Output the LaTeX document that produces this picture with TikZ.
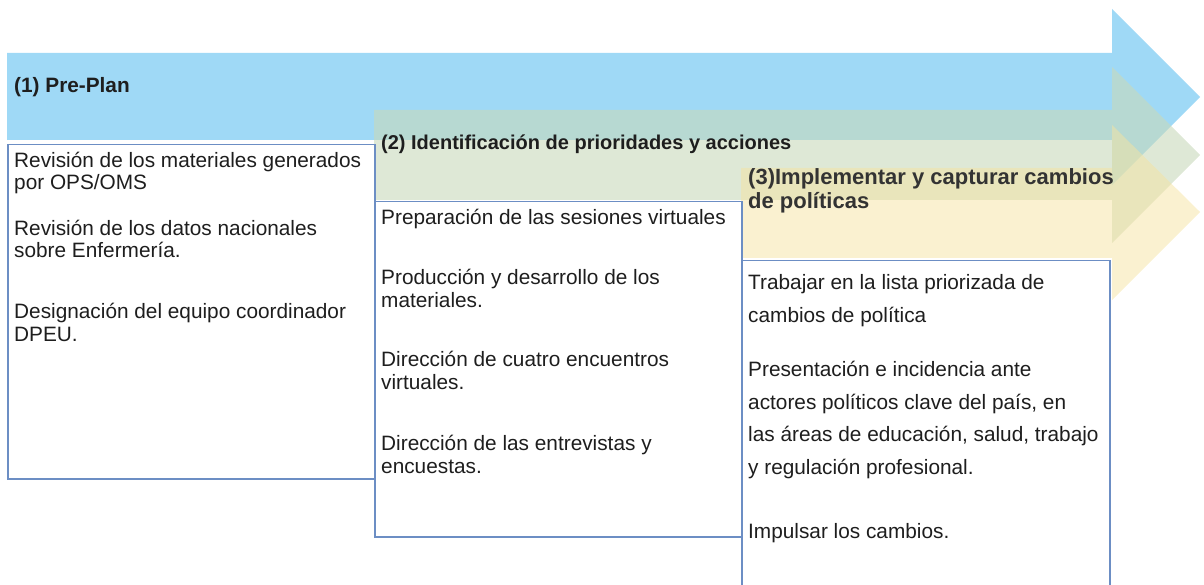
\documentclass[tikz,border=0pt]{standalone}
\usepackage{fontspec}
\setmainfont{Liberation Sans}
\definecolor{azul}{RGB}{159,217,246}
\definecolor{verde}{RGB}{200,217,187}
\definecolor{amarillo}{RGB}{245,227,161}
\definecolor{borde}{RGB}{108,142,196}
\definecolor{tinta}{RGB}{30,30,30}
\tikzset{
  caja/.style={draw=borde, line width=1.5pt, fill=white, anchor=north west, inner sep=0pt},
  titulo/.style={font=\bfseries\fontsize{20}{23}\selectfont, text=tinta, anchor=base west, inner sep=0pt, align=left},
  texto/.style={font=\fontsize{20.8}{22.5}\selectfont, text=tinta, anchor=base west, inner sep=0pt, align=left},
  textoancho/.style={texto, font=\fontsize{20.8}{32.5}\selectfont}
}

\begin{document}
\begin{tikzpicture}[x=1pt, y=-1pt]
    \useasboundingbox (0,0) rectangle (1204,585);
    \clip (0,0) rectangle (1204,585);
    % flechas de las etapas
    \fill [azul] (7,53) -- (1112,53) -- (1112,9) -- (1200,97) -- (1112,185) -- (1112,140) -- (7,140) -- cycle;
    \fill [verde, fill opacity=0.6] (374,110) -- (1112,110) -- (1112,67) -- (1200,155) -- (1112,243) -- (1112,200) -- (374,200) -- cycle;
    \fill [amarillo, fill opacity=0.5] (741,168) -- (1112,168) -- (1112,125) -- (1200,212) -- (1112,300) -- (1112,258) -- (741,258) -- cycle;
    % (el ancla base queda en la ultima linea)
    \node [titulo, font=\bfseries\fontsize{20.8}{23}\selectfont] (etapa1) at (14,93) {(1) Pre-Plan};
    \node [titulo] (etapa2) at (381,150) {(2) Identificación de prioridades y acciones};
    \node [titulo, font=\bfseries\fontsize{22}{24}\selectfont, text=black!80] (etapa3) at (748,209) {(3)Implementar y capturar cambios\\de políticas};
    % cajas de actividades
    \node [caja, minimum width=367, minimum height=334] (caja1) at (7,144) {};
    \node [caja, minimum width=367, minimum height=335] (caja2) at (374,201) {};
    \node [caja, minimum width=368, minimum height=360] (caja3) at (741,260) {};
    \node [texto] (a1) at (14,190) {Revisión de los materiales generados\\por OPS/OMS};
    \node [texto] (a2) at (14,258) {Revisión de los datos nacionales\\sobre Enfermería.};
    \node [texto] (a3) at (14,341) {Designación del equipo coordinador\\DPEU.};
    \node [texto] (b1) at (381,225) {Preparación de las sesiones virtuales};
    \node [texto] (b2) at (381,307) {Producción y desarrollo de los\\materiales.};
    \node [texto] (b3) at (381,389) {Dirección de cuatro encuentros\\virtuales.};
    \node [texto] (b4) at (381,473) {Dirección de las entrevistas y\\encuestas.};
    \node [textoancho] (c1) at (748,322) {Trabajar en la lista priorizada de\\cambios de política};
    \node [textoancho] (c2) at (748,474) {Presentación e incidencia ante\\actores políticos clave del país, en\\las áreas de educación, salud, trabajo\\y regulación profesional.};
    \node [textoancho] (c3) at (748,538) {Impulsar los cambios.};
\end{tikzpicture}
\end{document}
